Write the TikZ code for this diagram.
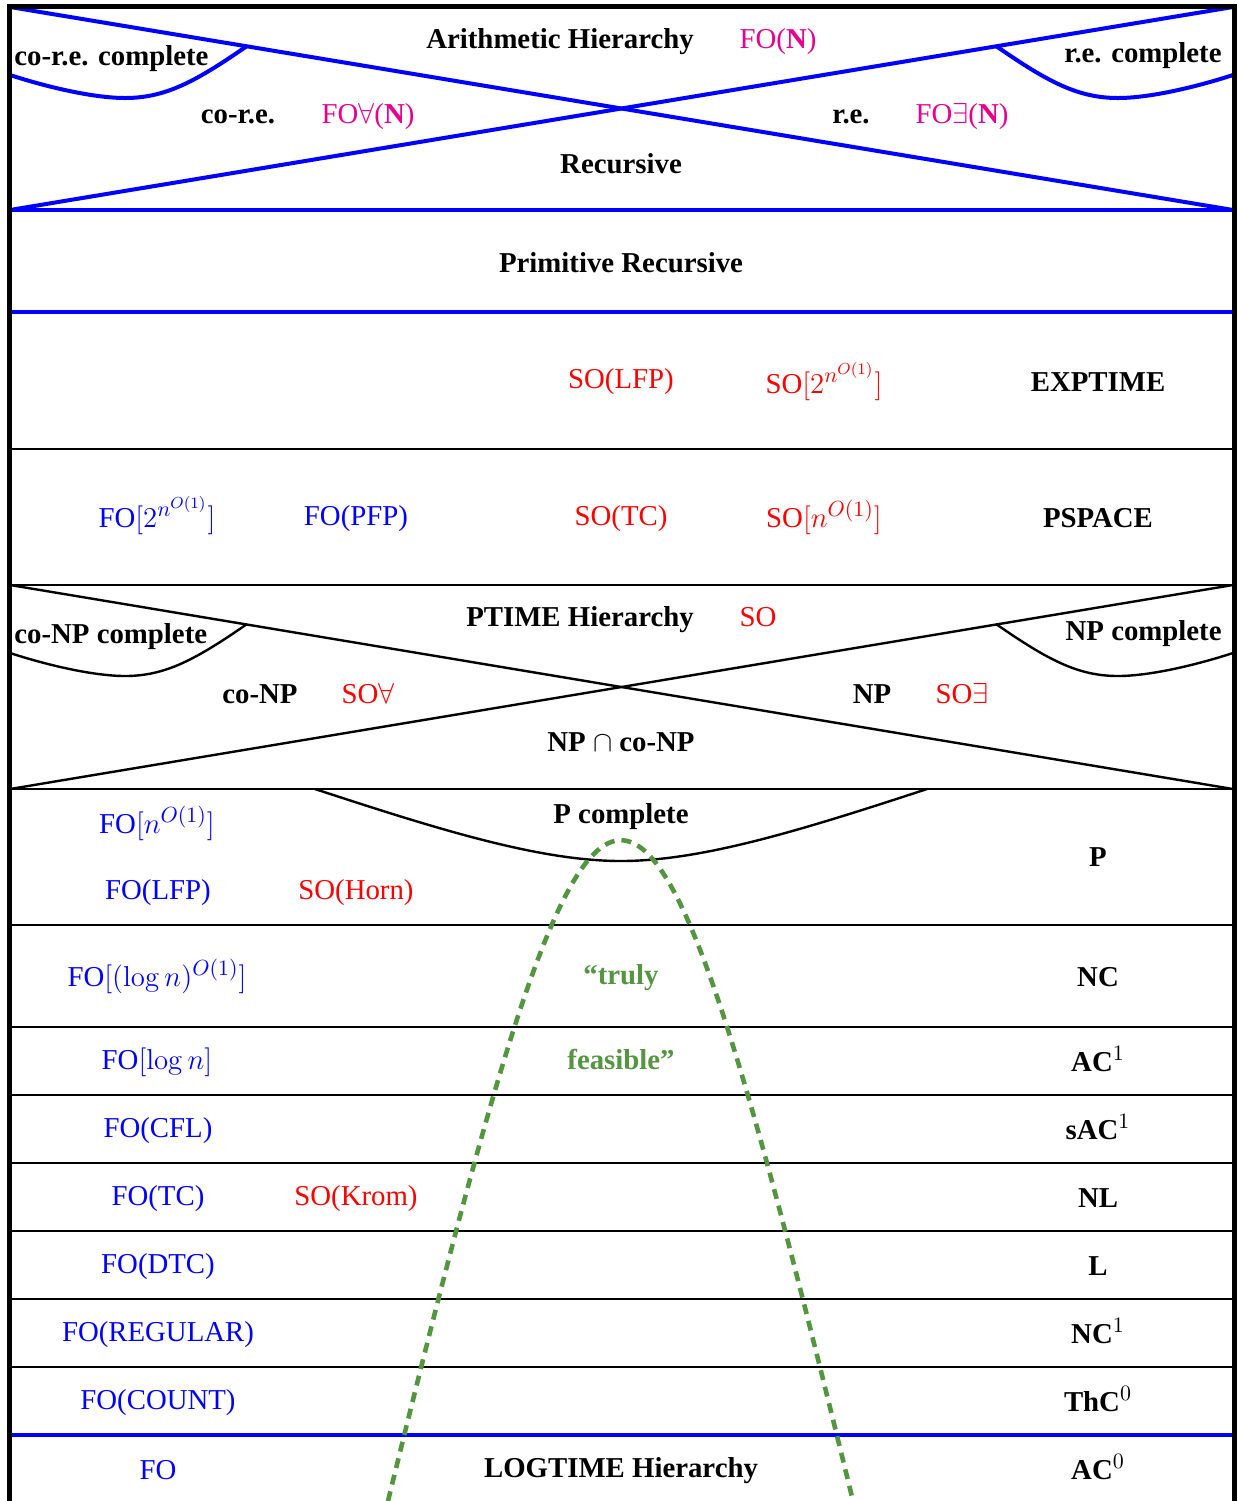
\documentclass[tikz,border=0pt]{standalone}
\usepackage[no-math]{fontspec}
\setmainfont{Liberation Serif}
\definecolor{fomag}{RGB}{230,0,140}
\definecolor{fgreen}{RGB}{84,150,64}
\DeclareMathSizes{14.4}{14.4}{11}{8.5}
\newcommand\fsz{\fontsize{14.4}{17}\selectfont}
\begin{document}
\begin{tikzpicture}[x=0.5pt,y=-0.5pt,
  lbl/.style={inner sep=0pt,anchor=base,font=\fsz},
  bl/.style={inner sep=0pt,anchor=base,font=\fsz\bfseries},
  blu/.style={lbl,text=blue},
  rd/.style={lbl,text=red},
  mg/.style={lbl,text=fomag},
  gr/.style={bl,text=fgreen},
  bluel/.style={draw=blue,line width=2pt},
  blkl/.style={draw=black,line width=1.4pt},
  diag/.style={draw=black,line width=1.2pt},
  frame/.style={draw=black,line width=2.5pt},
  feas/.style={draw=fgreen,line width=2.3pt,dash pattern=on 5pt off 3.5pt}]
\useasboundingbox (0,0) rectangle (1241,1501);
\fill[white] (0,0) rectangle (1241,1501);
% top section (arithmetic hierarchy)
\draw[bluel] (10,7) -- (1233,210);
\draw[bluel] (10,210) -- (1233,7);
\draw[bluel] (247,46) .. controls (195,82) and (165,98) .. (125,98) .. controls (95,98) and (50,88) .. (10,75);
\draw[bluel] (996,46) .. controls (1048,82) and (1078,98) .. (1118,98) .. controls (1148,98) and (1193,88) .. (1233,75);
\draw[bluel] (10,210) -- (1234,210);
\draw[bluel] (10,312) -- (1234,312);
% horizontal black lines
\foreach \yy in {449,585,789,925,1027,1095,1163,1231,1299,1367}
  \draw[blkl] (10,\yy) -- (1234,\yy);
\draw[bluel] (10,1435) -- (1234,1435);
% PTIME hierarchy
\draw[diag] (10,585) -- (1233,789);
\draw[diag] (10,789) -- (1233,585);
\draw[diag] (247,624) .. controls (195,660) and (165,676) .. (125,676) .. controls (95,676) and (50,666) .. (10,653);
\draw[diag] (996,624) .. controls (1048,660) and (1078,676) .. (1118,676) .. controls (1148,676) and (1193,666) .. (1233,653);
% P complete
\draw[diag] (315,789) .. controls (440,830) and (540,861) .. (621,861) .. controls (702,861) and (802,830) .. (927,789);
% truly feasible
\draw[feas] (388,1501) .. controls (604,620) and (638,620) .. (853,1501);
% frame
\draw[frame] (9.5,1505) -- (9.5,6) -- (1234.5,6) -- (1234.5,1505);
% labels top
\node[bl] (ah) at (560,48) {Arithmetic Hierarchy};
\node[mg] (fon) at (778,48) {FO(\textbf{N})};
\node[bl,anchor=base west] (crec) at (14,65) {co-r.e. complete};
\node[bl,anchor=base east] (rec) at (1222,62) {r.e. complete};
\node[bl] (cre) at (238,123) {co-r.e.};
\node[mg] (foa) at (368,123) {FO$\forall$(\textbf{N})};
\node[bl] (re) at (851,123) {r.e.};
\node[mg] (foe) at (962,123) {FO$\exists$(\textbf{N})};
\node[bl] (recu) at (621,173) {Recursive};
\node[bl] (prim) at (621,272) {Primitive Recursive};
% EXPTIME
\node[rd] (solfp) at (621,388) {SO(LFP)};
\node[rd] (soexp) at (824,393) {SO$[2^{n^{O(1)}}]$};
\node[bl] (exp) at (1098,391) {EXPTIME};
% PSPACE
\node[blu] (foexp) at (157,527) {FO$[2^{n^{O(1)}}]$};
\node[blu] (fopfp) at (356,525) {FO(PFP)};
\node[rd] (sotc) at (621,525) {SO(TC)};
\node[rd] (sopoly) at (824,527) {SO$[n^{O(1)}]$};
\node[bl] (pspace) at (1098,527) {PSPACE};
% PTIME hierarchy
\node[bl] (ph) at (580,626) {PTIME Hierarchy};
\node[rd] (so) at (758,626) {SO};
\node[bl,anchor=base west] (conpc) at (14,643) {co-NP complete};
\node[bl,anchor=base east] (npc) at (1222,640) {NP complete};
\node[bl] (conp) at (260,703) {co-NP};
\node[rd] (soa) at (368,703) {SO$\forall$};
\node[bl] (np) at (872,703) {NP};
\node[rd] (soe) at (962,703) {SO$\exists$};
\node[bl] (npcap) at (621,751) {NP $\cap$ co-NP};
% P
\node[bl] (pc) at (621,823) {P complete};
\node[blu] (fopoly) at (157,833) {FO$[n^{O(1)}]$};
\node[blu] (folfp) at (158,899) {FO(LFP)};
\node[rd] (sohorn) at (356,899) {SO(Horn)};
\node[bl] (p) at (1098,866) {P};
% NC
\node[gr] (truly) at (621,984) {``truly};
\node[blu] (fopolylog) at (157,986) {FO$[(\log n)^{O(1)}]$};
\node[bl] (nc) at (1098,986) {NC};
\node[gr] (feasible) at (621,1069) {feasible''};
\node[blu] (folog) at (157,1069) {FO$[\log n]$};
\node[bl] (ac1) at (1098,1071) {AC$^1$};
\node[blu] (focfl) at (158,1137) {FO(CFL)};
\node[bl] (sac1) at (1098,1139) {sAC$^1$};
\node[blu] (fotc) at (158,1205) {FO(TC)};
\node[rd] (sokrom) at (356,1205) {SO(Krom)};
\node[bl] (nl) at (1098,1207) {NL};
\node[blu] (fodtc) at (158,1273) {FO(DTC)};
\node[bl] (l) at (1098,1275) {L};
\node[blu] (foreg) at (158,1341) {FO(REGULAR)};
\node[bl] (nc1) at (1098,1343) {NC$^1$};
\node[blu] (focount) at (158,1409) {FO(COUNT)};
\node[bl] (thc0) at (1098,1411) {ThC$^0$};
\node[blu] (fo) at (158,1479) {FO};
\node[bl] (lh) at (621,1477) {LOGTIME Hierarchy};
\node[bl] (ac0) at (1098,1479) {AC$^0$};
\end{tikzpicture}
\end{document}
